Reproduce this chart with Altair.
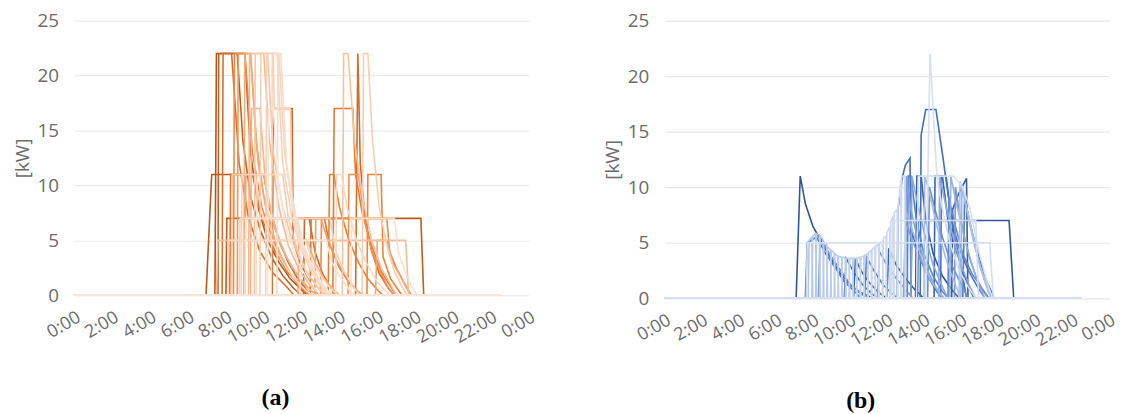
import altair as alt
import pandas as pd

# ---------------- data (hour of day, kW) ----------------
X_TICKS = [0, 2, 4, 6, 8, 10, 12, 14, 16, 18, 20, 22, 24]
Y_TICKS = [0, 5, 10, 15, 20, 25]
DAY_START = 0.0
DATA_END = 22.5

ORANGE_SERIES = [
    [(7.42, 0), (7.5, 22), (9.0, 22), (9.3, 13), (9.7, 8), (10.2, 5), (10.8, 3), (11.4, 1.5), (12, 0.5), (12.3, 0)],
    [(6.95, 0), (7.25, 11), (10.0, 11), (10.3, 8), (10.8, 5), (11.3, 3), (11.8, 1.5), (12.3, 0.4), (12.5, 0)],
    [(8.0, 0), (8.05, 7), (18.3, 7), (18.45, 0)],
    [(7.58, 0), (7.62, 22), (8.6, 22), (8.9, 14), (9.3, 9), (9.8, 6), (10.4, 3.5), (11, 1.8), (11.6, 0.6), (12, 0)],
    [(10.45, 0), (10.5, 17), (11.5, 17), (11.55, 5), (12, 2.5), (12.5, 1), (12.9, 0)],
    [(12.1, 0), (12.15, 7), (12.4, 7), (12.7, 4), (13.1, 2), (13.5, 0.8), (13.8, 0)],
    [(14.85, 0), (14.97, 22), (15.1, 12), (15.35, 7), (15.7, 4), (16.1, 2), (16.6, 0.6), (16.9, 0)],
    [(7.8, 0), (7.85, 22), (8.3, 22), (8.7, 12), (9.2, 7), (9.8, 4), (10.5, 2), (11.2, 0.8), (11.6, 0)],
    [(12.45, 0), (12.5, 7), (13.2, 7), (13.5, 4.5), (14, 2.5), (14.5, 1.2), (15, 0.3), (15.2, 0)],
    [(8.2, 0), (8.25, 11), (9.4, 11), (9.9, 7), (10.6, 4), (11.3, 2), (12, 0.8), (12.6, 0)],
    [(13.65, 0), (13.72, 17), (14.7, 17), (14.85, 11), (15.2, 7.5), (15.7, 4.5), (16.2, 2.2), (16.7, 0.8), (17, 0)],
    [(13.4, 0), (13.48, 11), (13.7, 11), (14.0, 8), (14.5, 5), (15.0, 3), (15.5, 1.5), (16, 0.5), (16.3, 0)],
    [(15.45, 0), (15.5, 11), (16.2, 11), (16.3, 3.5), (16.7, 1.5), (17.1, 0.5), (17.3, 0)],
    [(8.4, 0), (8.45, 22), (9.0, 22), (9.4, 13), (9.9, 8), (10.5, 5), (11.1, 2.8), (11.7, 1.2), (12.2, 0.3), (12.4, 0)],
    [(13.0, 0), (13.05, 7), (16.5, 7), (16.65, 4), (17.0, 2.5), (17.4, 1.2), (17.8, 0)],
    [(14.45, 0), (14.5, 11), (15.0, 11), (15.3, 7), (15.7, 4), (16.2, 2), (16.6, 0.6), (16.9, 0)],
    [(8.6, 0), (8.65, 22), (9.3, 22), (9.6, 14), (10.0, 9), (10.5, 5.5), (11.0, 3), (11.6, 1.5), (12.2, 0.5), (12.5, 0)],
    [(12.7, 0), (12.75, 7), (13.0, 7), (13.4, 5), (13.9, 3), (14.4, 1.5), (14.9, 0.5), (15.2, 0)],
    [(9.0, 0), (9.05, 11), (10.0, 11), (10.4, 7.5), (10.9, 4.5), (11.5, 2.5), (12.1, 1), (12.6, 0.3), (12.8, 0)],
    [(15.9, 0), (16.0, 5), (16.5, 5), (16.8, 3), (17.2, 1.8), (17.6, 0.5), (17.8, 0)],
    [(8.95, 0), (9.0, 22), (9.3, 22), (9.7, 12), (10.2, 7), (10.8, 4), (11.4, 2), (12, 0.8), (12.5, 0)],
    [(11.8, 0), (11.85, 5), (12.3, 5), (12.7, 3), (13.2, 1.5), (13.7, 0.5), (14, 0)],
    [(9.3, 0), (9.35, 17), (9.8, 17), (10.1, 10), (10.6, 6), (11.2, 3.5), (11.8, 1.8), (12.4, 0.6), (12.8, 0)],
    [(9.2, 0), (9.25, 22), (10.0, 22), (10.3, 14), (10.8, 8), (11.3, 4.5), (11.9, 2.2), (12.5, 0.8), (13, 0)],
    [(7.5, 0), (7.57, 5), (17.5, 5), (17.65, 0)],
    [(14.15, 0), (14.22, 22), (14.45, 22), (14.8, 14), (15.2, 9), (15.7, 5), (16.2, 2.5), (16.7, 1), (17, 0)],
    [(9.5, 0), (9.55, 22), (10.2, 22), (10.5, 13), (11.0, 8), (11.5, 5), (12.1, 2.6), (12.7, 1), (13.2, 0)],
    [(8.3, 0), (8.35, 11), (11.0, 11), (11.3, 7), (11.8, 4), (12.3, 2), (12.9, 0.7), (13.3, 0)],
    [(15.2, 0), (15.27, 22), (15.5, 22), (15.75, 14), (16.1, 8), (16.5, 4.5), (16.9, 2.2), (17.3, 0.8), (17.6, 0)],
    [(9.8, 0), (9.85, 22), (10.5, 22), (10.55, 17), (11.4, 17), (11.5, 9), (11.9, 5), (12.4, 2.5), (13, 0.8), (13.4, 0)],
    [(8.7, 0), (8.75, 7), (13.5, 7), (13.8, 4), (14.3, 2), (14.8, 0.6), (15.1, 0)],
    [(10.1, 0), (10.15, 22), (10.7, 22), (11.0, 12), (11.5, 7), (12.0, 4), (12.6, 2), (13.2, 0.6), (13.5, 0)],
    [(8.8, 0), (8.85, 11), (9.5, 11), (9.9, 7.5), (10.4, 5), (11, 3), (11.6, 1.5), (12.2, 0.5), (12.6, 0)],
    [(10.4, 0), (10.45, 22), (10.8, 22), (11.1, 13), (11.6, 7), (12.1, 4), (12.7, 2), (13.3, 0.5), (13.6, 0)],
    [(13.8, 0), (13.85, 11), (14.1, 11), (14.4, 8), (14.9, 5), (15.4, 3), (16, 1.2), (16.5, 0.3), (16.7, 0)],
    [(8.1, 0), (8.15, 5), (12.2, 5), (12.6, 3), (13.1, 1.5), (13.6, 0.5), (13.9, 0)],
    [(10.7, 0), (10.75, 22), (10.9, 22), (11.2, 12), (11.7, 7), (12.2, 4), (12.8, 1.8), (13.4, 0.4), (13.7, 0)],
    [(9.6, 0), (9.65, 11), (11.3, 11), (11.6, 7), (12.1, 4), (12.6, 2), (13.2, 0.6), (13.6, 0)],
    [(14.6, 0), (14.65, 7), (16.9, 7), (17.1, 4), (17.5, 2), (17.9, 0.5), (18.1, 0)],
    [(9.0, 0), (9.05, 7), (11.8, 7), (12.1, 4.5), (12.6, 2.5), (13.1, 1), (13.5, 0)],
    [(11.9, 0), (12.0, 5), (13.3, 5), (13.6, 3), (14.1, 1.5), (14.6, 0.3), (14.8, 0)],
    [(10.2, 0), (10.25, 17), (10.5, 17), (10.8, 10), (11.2, 6), (11.8, 3), (12.4, 1.2), (13, 0)],
]

BLUE_SERIES = [
    # darker profiles
    [(7.1, 0), (7.32, 11), (7.6, 8.5), (8.0, 6.5), (8.5, 5), (9, 3.5), (9.5, 2.2), (10, 1.2), (10.5, 0.6), (11, 0.2), (11.2, 0)],
    [(13.65, 0), (13.7, 7), (18.6, 7), (18.85, 0)],
    [(13.55, 0), (13.62, 11), (13.85, 11), (14.1, 7), (14.5, 4), (15, 2), (15.5, 0.8), (15.9, 0)],
    [(15.5, 0), (15.55, 8), (15.9, 9.5), (16.3, 10.8), (16.38, 0)],
    [(10.2, 0), (10.3, 3.6), (10.6, 2.5), (11, 1.5), (11.5, 0.6), (12, 0)],
    [(12.0, 0), (12.1, 4.5), (12.5, 3), (13, 1.8), (13.5, 0.8), (14, 0)],
    [(14.55, 0), (14.6, 11), (15.0, 11), (15.3, 7), (15.8, 4), (16.3, 1.5), (16.7, 0)],
    [(9.7, 0), (9.8, 3.6), (10.2, 2.4), (10.7, 1.2), (11.2, 0.4), (11.5, 0)],
    [(13.3, 0), (13.35, 6), (13.7, 4), (14.2, 2), (14.7, 0.6), (15, 0)],
    # medium profiles
    [(12.55, 0), (12.6, 8), (12.85, 11), (13.0, 12), (13.25, 12.6), (13.3, 0)],
    [(13.8, 0), (13.85, 14.7), (14.1, 17), (14.65, 17), (15.0, 13), (15.25, 10), (15.6, 6), (16, 3), (16.3, 0)],
    [(7.6, 0), (7.7, 5), (8.2, 5.5), (8.7, 4), (9.2, 2.8), (9.7, 1.5), (10.2, 0.7), (10.6, 0)],
    [(14.9, 0), (14.95, 11), (15.2, 11), (15.5, 7), (15.9, 4.5), (16.4, 2.5), (16.9, 1), (17.3, 0)],
    [(16.1, 0), (16.2, 9), (16.6, 6), (17, 3.5), (17.4, 1.5), (17.8, 0)],
    [(10.8, 0), (10.9, 3.7), (11.3, 2.5), (11.8, 1.2), (12.3, 0.4), (12.6, 0)],
    [(13.1, 0), (13.15, 11), (13.3, 11), (13.6, 7), (14, 4), (14.5, 2), (15, 0.6), (15.3, 0)],
    [(15.3, 0), (15.35, 9), (15.7, 6.5), (16.1, 4), (16.6, 2.2), (17.1, 1), (17.5, 0)],
    [(8.3, 0), (8.4, 5.5), (8.9, 4), (9.5, 2.5), (10, 1.3), (10.6, 0.4), (11, 0)],
    [(14.2, 0), (14.3, 10), (14.6, 8), (15, 5.5), (15.5, 3), (16, 1.3), (16.4, 0)],
    [(11.5, 0), (11.6, 4.2), (12, 3), (12.5, 1.8), (13, 0.8), (13.4, 0)],
    [(15.65, 0), (15.7, 10), (16.0, 7), (16.4, 4), (16.8, 2), (17.2, 0.6), (17.5, 0)],
    [(12.9, 0), (13.0, 7), (13.3, 5.5), (13.8, 3.5), (14.3, 1.8), (14.8, 0.5), (15.1, 0)],
    # lighter afternoon profiles
    [(13.0, 0), (13.05, 11), (13.3, 8), (13.7, 5), (14.2, 2.5), (14.7, 0.8), (15, 0)],
    [(13.3, 0), (13.35, 11), (13.6, 9), (14, 6), (14.5, 3), (15, 1), (15.3, 0)],
    [(14.8, 0), (14.85, 11), (15.1, 9), (15.5, 6), (16, 3), (16.5, 1), (16.8, 0)],
    [(15.4, 0), (15.45, 11), (15.7, 9), (16.1, 6), (16.6, 3), (17, 1), (17.3, 0)],
    [(16.0, 0), (16.05, 10), (16.3, 8), (16.7, 5), (17.1, 2.5), (17.5, 0.6), (17.7, 0)],
    [(12.95, 0), (13.0, 8), (13.4, 6), (13.9, 3.5), (14.4, 1.5), (14.9, 0.4), (15.1, 0)],
    [(14.0, 0), (14.05, 11), (14.3, 9.5), (14.7, 6.5), (15.2, 3.5), (15.7, 1.2), (16.0, 0)],
    [(15.9, 0), (15.95, 10.5), (16.2, 9), (16.6, 6), (17.0, 3), (17.4, 1), (17.6, 0)],
    # short morning sessions (light hatching)
    [(7.75, 0), (7.8, 5.2), (7.95, 5.5), (8.0, 0)],
    [(7.95, 0), (8.0, 5.6), (8.15, 5.8), (8.2, 0)],
    [(8.15, 0), (8.2, 5.8), (8.35, 5.7), (8.4, 0)],
    [(8.35, 0), (8.4, 5.6), (8.55, 5.3), (8.6, 0)],
    [(8.55, 0), (8.6, 5.1), (8.75, 4.8), (8.8, 0)],
    [(8.75, 0), (8.8, 4.6), (8.95, 4.4), (9.0, 0)],
    [(8.95, 0), (9.0, 4.3), (9.15, 4.1), (9.2, 0)],
    [(9.15, 0), (9.2, 4.0), (9.35, 3.8), (9.4, 0)],
    [(9.35, 0), (9.4, 3.8), (9.55, 3.7), (9.6, 0)],
    [(9.55, 0), (9.6, 3.7), (9.75, 3.6), (9.8, 0)],
    [(9.75, 0), (9.8, 3.6), (9.95, 3.6), (10.0, 0)],
    [(9.95, 0), (10.0, 3.6), (10.15, 3.6), (10.2, 0)],
    [(10.15, 0), (10.2, 3.6), (10.35, 3.6), (10.4, 0)],
    [(10.35, 0), (10.4, 3.6), (10.55, 3.7), (10.6, 0)],
    [(10.55, 0), (10.6, 3.7), (10.75, 3.8), (10.8, 0)],
    [(10.75, 0), (10.8, 3.9), (10.95, 4.0), (11.0, 0)],
    [(10.95, 0), (11.0, 4.1), (11.15, 4.3), (11.2, 0)],
    [(11.15, 0), (11.2, 4.4), (11.35, 4.6), (11.4, 0)],
    [(11.35, 0), (11.4, 4.7), (11.55, 4.9), (11.6, 0)],
    [(11.55, 0), (11.6, 5.0), (11.75, 5.1), (11.8, 0)],
    [(11.75, 0), (11.8, 5.3), (11.95, 5.6), (12.0, 0)],
    [(11.95, 0), (12.0, 5.9), (12.15, 6.4), (12.2, 0)],
    [(12.15, 0), (12.2, 6.8), (12.35, 7.4), (12.4, 0)],
    [(12.35, 0), (12.4, 7.7), (12.55, 8.0), (12.6, 0)],
    [(12.55, 0), (12.6, 8.1), (12.75, 10.6), (12.8, 0)],
    [(12.75, 0), (12.8, 11), (12.95, 11), (13.0, 0)],
    # lightest long sessions
    [(12.25, 0), (12.3, 7), (16.8, 7), (16.95, 0)],
    [(7.65, 0), (7.7, 5), (17.55, 5), (17.75, 0)],
    [(13.6, 0), (13.7, 11), (15.6, 11), (16.1, 10), (16.5, 8), (17, 4), (17.4, 1.5), (17.7, 0)],
    [(14.1, 0), (14.33, 22), (14.7, 11), (15.0, 8), (15.4, 5), (15.9, 2.5), (16.4, 1), (16.8, 0)],
]

ORANGE_COLORS = ["#b0561a", "#ED7D31", "#F8CBAD", "#FBE5D6"]
ORANGE_STOPS = [0, 11, 27, 41]
BLUE_COLORS = ["#2F5597", "#4472C4", "#B4C7E7", "#DAE3F3"]
BLUE_STOPS = [0, 12, 30, 63]


def to_frame(series_list, prefix):
    rows = []
    for i, pts in enumerate(series_list):
        full = [(DAY_START, 0.0)] + list(pts) + [(DATA_END, 0.0)]
        for h, kw in full:
            rows.append({"sid": f"{prefix}{i:03d}", "idx": i, "h": h, "kw": kw})
    return pd.DataFrame(rows)


FONT = "Open Sans"
GRAY = "#6b6b6b"


def panel(df, colors, stops, width, height, caption, grid_color):
    return (
        alt.Chart(df)
        .mark_line(strokeWidth=1.6)
        .encode(
            x=alt.X(
                "h:Q",
                scale=alt.Scale(domain=[0, 24], nice=False, zero=False),
                axis=alt.Axis(
                    values=X_TICKS, labelExpr="(datum.value % 24) + ':00'",
                    title=None, grid=False, domain=False, ticks=False,
                    labelAngle=-30, labelAlign="right", labelBaseline="top",
                    labelPadding=13, labelFontSize=18, labelColor=GRAY,
                    labelFont=FONT, labelOverlap=False, labelFlush=False,
                ),
            ),
            y=alt.Y(
                "kw:Q",
                scale=alt.Scale(domain=[0, 25], nice=False),
                axis=alt.Axis(
                    values=Y_TICKS, title="[kW]", grid=True, gridColor=grid_color,
                    gridWidth=1.2, domain=False, ticks=False, labelPadding=16,
                    labelFontSize=19, labelColor=GRAY, labelFont=FONT,
                    titleFont=FONT, titleFontSize=19, titleFontWeight="normal",
                    titleColor=GRAY, titlePadding=5,
                ),
            ),
            color=alt.Color("idx:Q", scale=alt.Scale(domain=stops, range=colors), legend=None),
            detail="sid:N",
        )
        .properties(
            width=width, height=height,
            title=alt.TitleParams(
                caption, orient="bottom", frame="bounds", anchor="middle",
                font="Liberation Serif", fontSize=24, fontWeight="bold",
                color="#000000", offset=40,
            ),
        )
    )


left = panel(to_frame(ORANGE_SERIES, "o"), ORANGE_COLORS, ORANGE_STOPS, 458, 277, "(a)", "#ebebeb")
right = panel(to_frame(BLUE_SERIES, "b"), BLUE_COLORS, BLUE_STOPS, 448, 280, "(b)", "#e4e7ee")

chart = (
    alt.hconcat(left, right, spacing=66)
    .resolve_scale(color="independent")
    .properties(padding={"left": 5, "top": 2, "right": 0, "bottom": 0})
    .configure_view(stroke=None)
)

chart.save("out.html", embed_options={"renderer": "svg", "actions": False})
